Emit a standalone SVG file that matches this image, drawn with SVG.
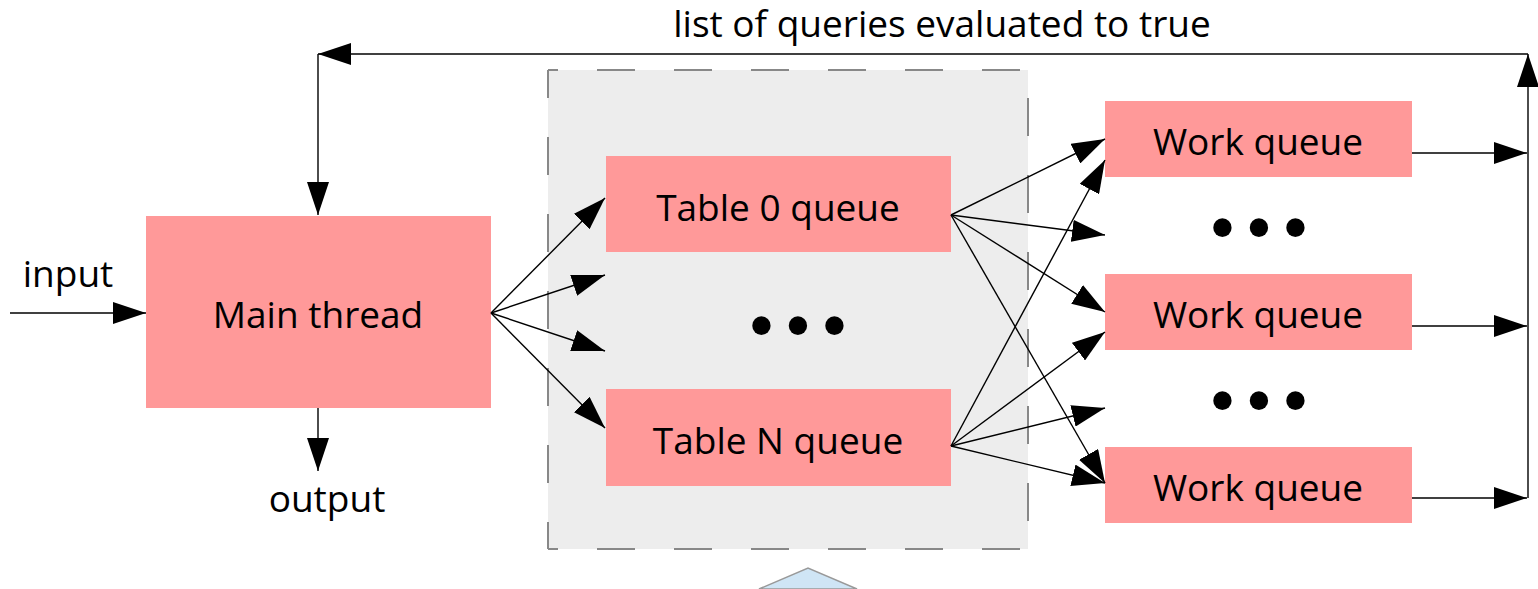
<svg xmlns="http://www.w3.org/2000/svg" width="1538" height="589" viewBox="0 0 1538 589">
  <style>
    .box { fill: #FF9999; }
    .lbl { font-family: "Open Sans", "Liberation Sans", sans-serif; font-size: 37px; fill: #000; text-anchor: middle; }
    .dots { font-family: "Liberation Sans", sans-serif; font-weight: bold; font-size: 64px; fill: #000; text-anchor: middle; }
    .edge { stroke: #888; stroke-width: 2; fill: none; stroke-dasharray: 38 39; }
    .wire { stroke: #000; stroke-width: 1.4; fill: none; marker-end: url(#arrow); }
  </style>
  <defs>
    <marker id="arrow" markerUnits="userSpaceOnUse" markerWidth="34" markerHeight="22" refX="33" refY="11" orient="auto">
      <path d="M0,0 L33,11 L0,22 Z" fill="#000"/>
    </marker>
  </defs>

  <!-- dashed container around the table queues -->
  <g id="table-group">
    <rect x="548" y="70" width="480" height="479" fill="#EDEDED"/>
    <line class="edge" x1="548" y1="70" x2="1028" y2="70" stroke-dashoffset="28"/>
    <line class="edge" x1="548" y1="549" x2="1028" y2="549" stroke-dashoffset="28"/>
    <line class="edge" x1="548" y1="70" x2="548" y2="549" stroke-dashoffset="10"/>
    <line class="edge" x1="1028" y1="70" x2="1028" y2="549" stroke-dashoffset="49"/>
  </g>

  <!-- small marker triangle below the container -->
  <g id="group-handle">
    <polygon points="759,589 808,568 857,589" fill="#CFE5F5" stroke="#999" stroke-width="1.5"/>
  </g>

  <g id="main-thread">
    <rect class="box" x="146" y="216" width="345" height="192"/>
    <text class="lbl" x="318" y="328">Main thread</text>
  </g>

  <g id="table-0-queue">
    <rect class="box" x="606" y="156" width="345" height="96"/>
    <text class="lbl" x="778" y="221">Table 0 queue</text>
  </g>

  <g id="table-n-queue">
    <rect class="box" x="606" y="389" width="345" height="97"/>
    <text class="lbl" x="778" y="454">Table N queue</text>
  </g>

  <g id="table-ellipsis">
    <text class="dots" x="761.5 798 834.5" y="347">•••</text>
  </g>

  <g id="work-queue-1">
    <rect class="box" x="1105" y="101" width="307" height="76"/>
    <text class="lbl" x="1258" y="155">Work queue</text>
  </g>

  <g id="work-queue-2">
    <rect class="box" x="1105" y="274" width="307" height="76"/>
    <text class="lbl" x="1258" y="328">Work queue</text>
  </g>

  <g id="work-queue-3">
    <rect class="box" x="1105" y="447" width="307" height="76"/>
    <text class="lbl" x="1258" y="501">Work queue</text>
  </g>

  <g id="work-ellipsis-1">
    <text class="dots" x="1222.5 1259 1295.5" y="249">•••</text>
  </g>
  <g id="work-ellipsis-2">
    <text class="dots" x="1222.5 1259 1295.5" y="422">•••</text>
  </g>

  <g id="labels">
    <text class="lbl" x="68" y="287">input</text>
    <text class="lbl" x="327" y="512">output</text>
    <text class="lbl" x="942" y="37">list of queries evaluated to true</text>
  </g>

  <g id="connectors">
    <!-- input / output of the main thread -->
    <line class="wire" x1="10" y1="313" x2="146" y2="313"/>
    <line class="wire" x1="318" y1="408" x2="318" y2="471"/>

    <!-- main thread to table queues -->
    <line class="wire" x1="491" y1="313" x2="605" y2="198"/>
    <line class="wire" x1="491" y1="313" x2="605" y2="275"/>
    <line class="wire" x1="491" y1="313" x2="605" y2="351"/>
    <line class="wire" x1="491" y1="313" x2="605" y2="428"/>

    <!-- table 0 queue to work queues -->
    <line class="wire" x1="951" y1="215" x2="1105" y2="139"/>
    <line class="wire" x1="951" y1="215" x2="1105" y2="235"/>
    <line class="wire" x1="951" y1="215" x2="1105" y2="312"/>
    <line class="wire" x1="951" y1="215" x2="1105" y2="483"/>

    <!-- table N queue to work queues -->
    <line class="wire" x1="951" y1="446" x2="1105" y2="160"/>
    <line class="wire" x1="951" y1="446" x2="1105" y2="332"/>
    <line class="wire" x1="951" y1="446" x2="1105" y2="408"/>
    <line class="wire" x1="951" y1="446" x2="1105" y2="483"/>

    <!-- work queue results to the collector line -->
    <line class="wire" x1="1412" y1="153" x2="1527" y2="153"/>
    <line class="wire" x1="1412" y1="326" x2="1527" y2="326"/>
    <line class="wire" x1="1412" y1="498" x2="1527" y2="498"/>

    <!-- feedback loop back to the main thread -->
    <line class="wire" x1="1528" y1="498" x2="1528" y2="54"/>
    <line class="wire" x1="1528" y1="54" x2="318" y2="54"/>
    <line class="wire" x1="318" y1="54" x2="318" y2="215"/>
  </g>
</svg>
